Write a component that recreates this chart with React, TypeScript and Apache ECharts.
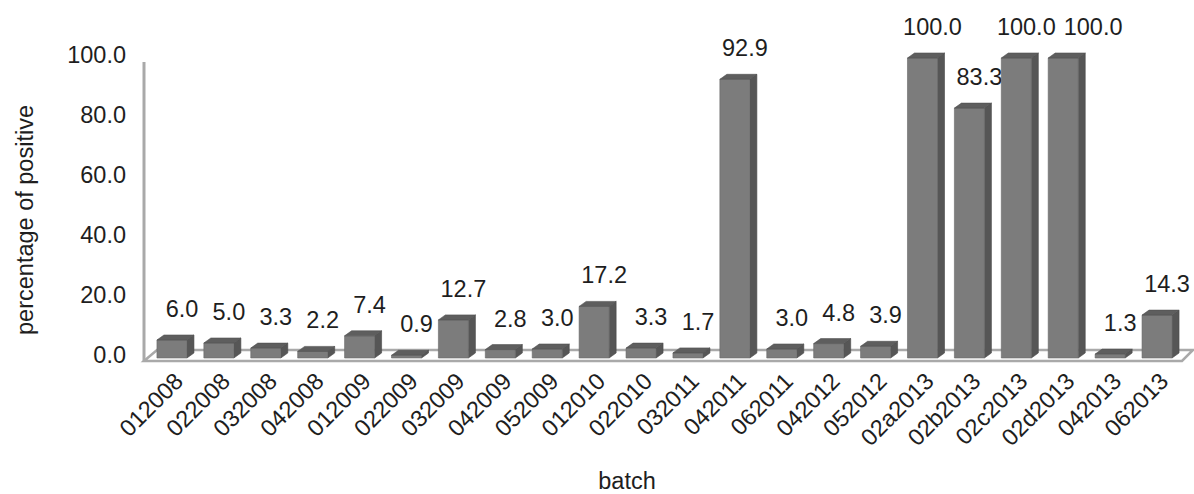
import React, { useEffect, useRef } from "react";
import * as echarts from "echarts";

// Batches and the share of positive samples in each (%)
const batches = [
  "012008", "022008", "032008", "042008", "012009", "022009", "032009",
  "042009", "052009", "012010", "022010", "032011", "042011", "062011",
  "042012", "052012", "02a2013", "02b2013", "02c2013", "02d2013",
  "042013", "062013",
];
const positivePct = [
  6.0, 5.0, 3.3, 2.2, 7.4, 0.9, 12.7, 2.8, 3.0, 17.2, 3.3, 1.7, 92.9, 3.0,
  4.8, 3.9, 100.0, 83.3, 100.0, 100.0, 1.3, 14.3,
];
const yTicks = [0, 20, 40, 60, 80, 100];

const FONT = "'Liberation Sans', Arial, sans-serif";
const FONT_SIZE = 23.5;
const TEXT = "#1e1e1e";
const FRAME = "#a9a9a9";

// plot area for the bars
const BAR_LEFT = 148.5;
const BAR_RIGHT = 13.5;
const BAR_TOP = 58;
const BAR_BOTTOM = 136;
// the axis grid sits slightly right of the bars (3D projection)
const AXIS_SHIFT = 7;
// depth of the extruded bars
const DEPTH_X = 7;
const DEPTH_Y = 5;

// width of a value label, used to keep neighbouring labels apart
let measureCtx: CanvasRenderingContext2D | null = null;
function textWidth(s: string): number {
  if (!measureCtx) measureCtx = document.createElement("canvas").getContext("2d");
  if (!measureCtx) return s.length * FONT_SIZE * 0.556;
  measureCtx.font = `${FONT_SIZE}px ${FONT}`;
  return measureCtx.measureText(s).width;
}

export default function App() {
  const ref = useRef<HTMLDivElement>(null);

  useEffect(() => {
    if (!ref.current) return;
    const chart = echarts.init(ref.current, undefined, { renderer: "svg" });

    // last placed value label: right edge and vertical centre
    let prevLabel: { right: number; y: number } | null = null;

    const renderBar = (params: any, api: any) => {
      const idx = api.value(0);
      const v = api.value(1);
      const base = api.coord([idx, 0]);
      const top = api.coord([idx, v]);
      const band = api.size([1, 0])[0];
      const w = band * 0.64;
      const x0 = base[0] - w / 2;
      const x1 = x0 + w;
      const yB = base[1];
      const yT = top[1];

      const text = v.toFixed(1);
      const tw = textWidth(text);
      let lx = base[0] + 10;
      const ly = yT - 31;
      if (params.dataIndex === 0) prevLabel = null;
      if (prevLabel && Math.abs(prevLabel.y - ly) < FONT_SIZE) {
        const minX = prevLabel.right + 8 + tw / 2;
        if (lx < minX) lx = minX;
      }
      prevLabel = { right: lx + tw / 2, y: ly };

      return {
        type: "group",
        children: [
          {
            type: "polygon",
            shape: {
              points: [
                [x1, yT],
                [x1 + DEPTH_X, yT - DEPTH_Y],
                [x1 + DEPTH_X, yB - DEPTH_Y],
                [x1, yB],
              ],
            },
            style: { fill: "#565656", stroke: "#4a4a4a", lineWidth: 0.6 },
          },
          {
            type: "rect",
            shape: { x: x0, y: yT, width: w, height: yB - yT },
            style: { fill: "#7c7c7c", stroke: "#686868", lineWidth: 0.6 },
          },
          {
            type: "polygon",
            shape: {
              points: [
                [x0, yT],
                [x0 + DEPTH_X, yT - DEPTH_Y],
                [x1 + DEPTH_X, yT - DEPTH_Y],
                [x1, yT],
              ],
            },
            style: { fill: "#5e5e5e", stroke: "#505050", lineWidth: 0.6 },
          },
          {
            type: "text",
            x: lx,
            y: ly,
            style: {
              text,
              align: "center",
              verticalAlign: "middle",
              fontSize: FONT_SIZE,
              fontFamily: FONT,
              fill: TEXT,
            },
          },
        ],
      };
    };

    // floor and back wall edges
    const floorBack = 350;
    const floorFront = 361;
    const wallX = 144;

    chart.setOption({
      animation: false,
      backgroundColor: "#ffffff",
      textStyle: { fontFamily: FONT },
      grid: [
        { left: BAR_LEFT, right: BAR_RIGHT, top: BAR_TOP, bottom: BAR_BOTTOM },
        {
          left: BAR_LEFT + AXIS_SHIFT,
          right: BAR_RIGHT - AXIS_SHIFT,
          top: 55,
          bottom: 139,
        },
      ],
      xAxis: [
        { type: "category", gridIndex: 0, data: batches, show: false },
        {
          type: "category",
          gridIndex: 1,
          data: batches,
          axisLine: { show: false },
          axisTick: { show: false },
          axisLabel: {
            rotate: 45,
            margin: 22,
            interval: 0,
            fontSize: FONT_SIZE,
            fontFamily: FONT,
            color: TEXT,
          },
        },
      ],
      yAxis: [
        { type: "value", gridIndex: 0, min: 0, max: 100, show: false },
        {
          type: "value",
          gridIndex: 1,
          min: yTicks[0],
          max: yTicks[yTicks.length - 1],
          interval: yTicks[1] - yTicks[0],
          offset: BAR_LEFT + AXIS_SHIFT - wallX,
          axisLine: { show: false },
          axisTick: { show: false },
          splitLine: { show: false },
          axisLabel: {
            margin: 18,
            fontSize: FONT_SIZE,
            fontFamily: FONT,
            color: TEXT,
            formatter: (val: number) => val.toFixed(1),
          },
        },
      ],
      graphic: [
        {
          type: "polygon",
          z: -1,
          shape: {
            points: [
              [wallX, floorFront],
              [wallX + 13, floorBack],
              [1193, floorBack],
              [1182, floorFront],
            ],
          },
          style: { fill: "none", stroke: FRAME, lineWidth: 2.5 },
        },
        {
          type: "line",
          z: -1,
          shape: { x1: wallX, y1: 62, x2: wallX, y2: floorFront },
          style: { stroke: FRAME, lineWidth: 3 },
        },
        {
          type: "text",
          x: 25,
          y: 220,
          rotation: Math.PI / 2,
          style: {
            text: "percentage of positive",
            align: "center",
            verticalAlign: "middle",
            fontSize: FONT_SIZE,
            fontFamily: FONT,
            fill: TEXT,
          },
        },
        {
          type: "text",
          x: 627,
          y: 493,
          style: {
            text: "batch",
            align: "center",
            verticalAlign: "bottom",
            fontSize: FONT_SIZE,
            fontFamily: FONT,
            fill: TEXT,
          },
        },
      ],
      series: [
        {
          type: "custom",
          xAxisIndex: 0,
          yAxisIndex: 0,
          renderItem: renderBar,
          data: positivePct.map((v, i) => [i, v]),
          clip: false,
          z: 5,
        },
      ],
    });

    return () => chart.dispose();
  }, []);

  return (
    <div
      ref={ref}
      style={{ position: "fixed", left: 0, top: 0, width: 1194, height: 494 }}
    />
  );
}
